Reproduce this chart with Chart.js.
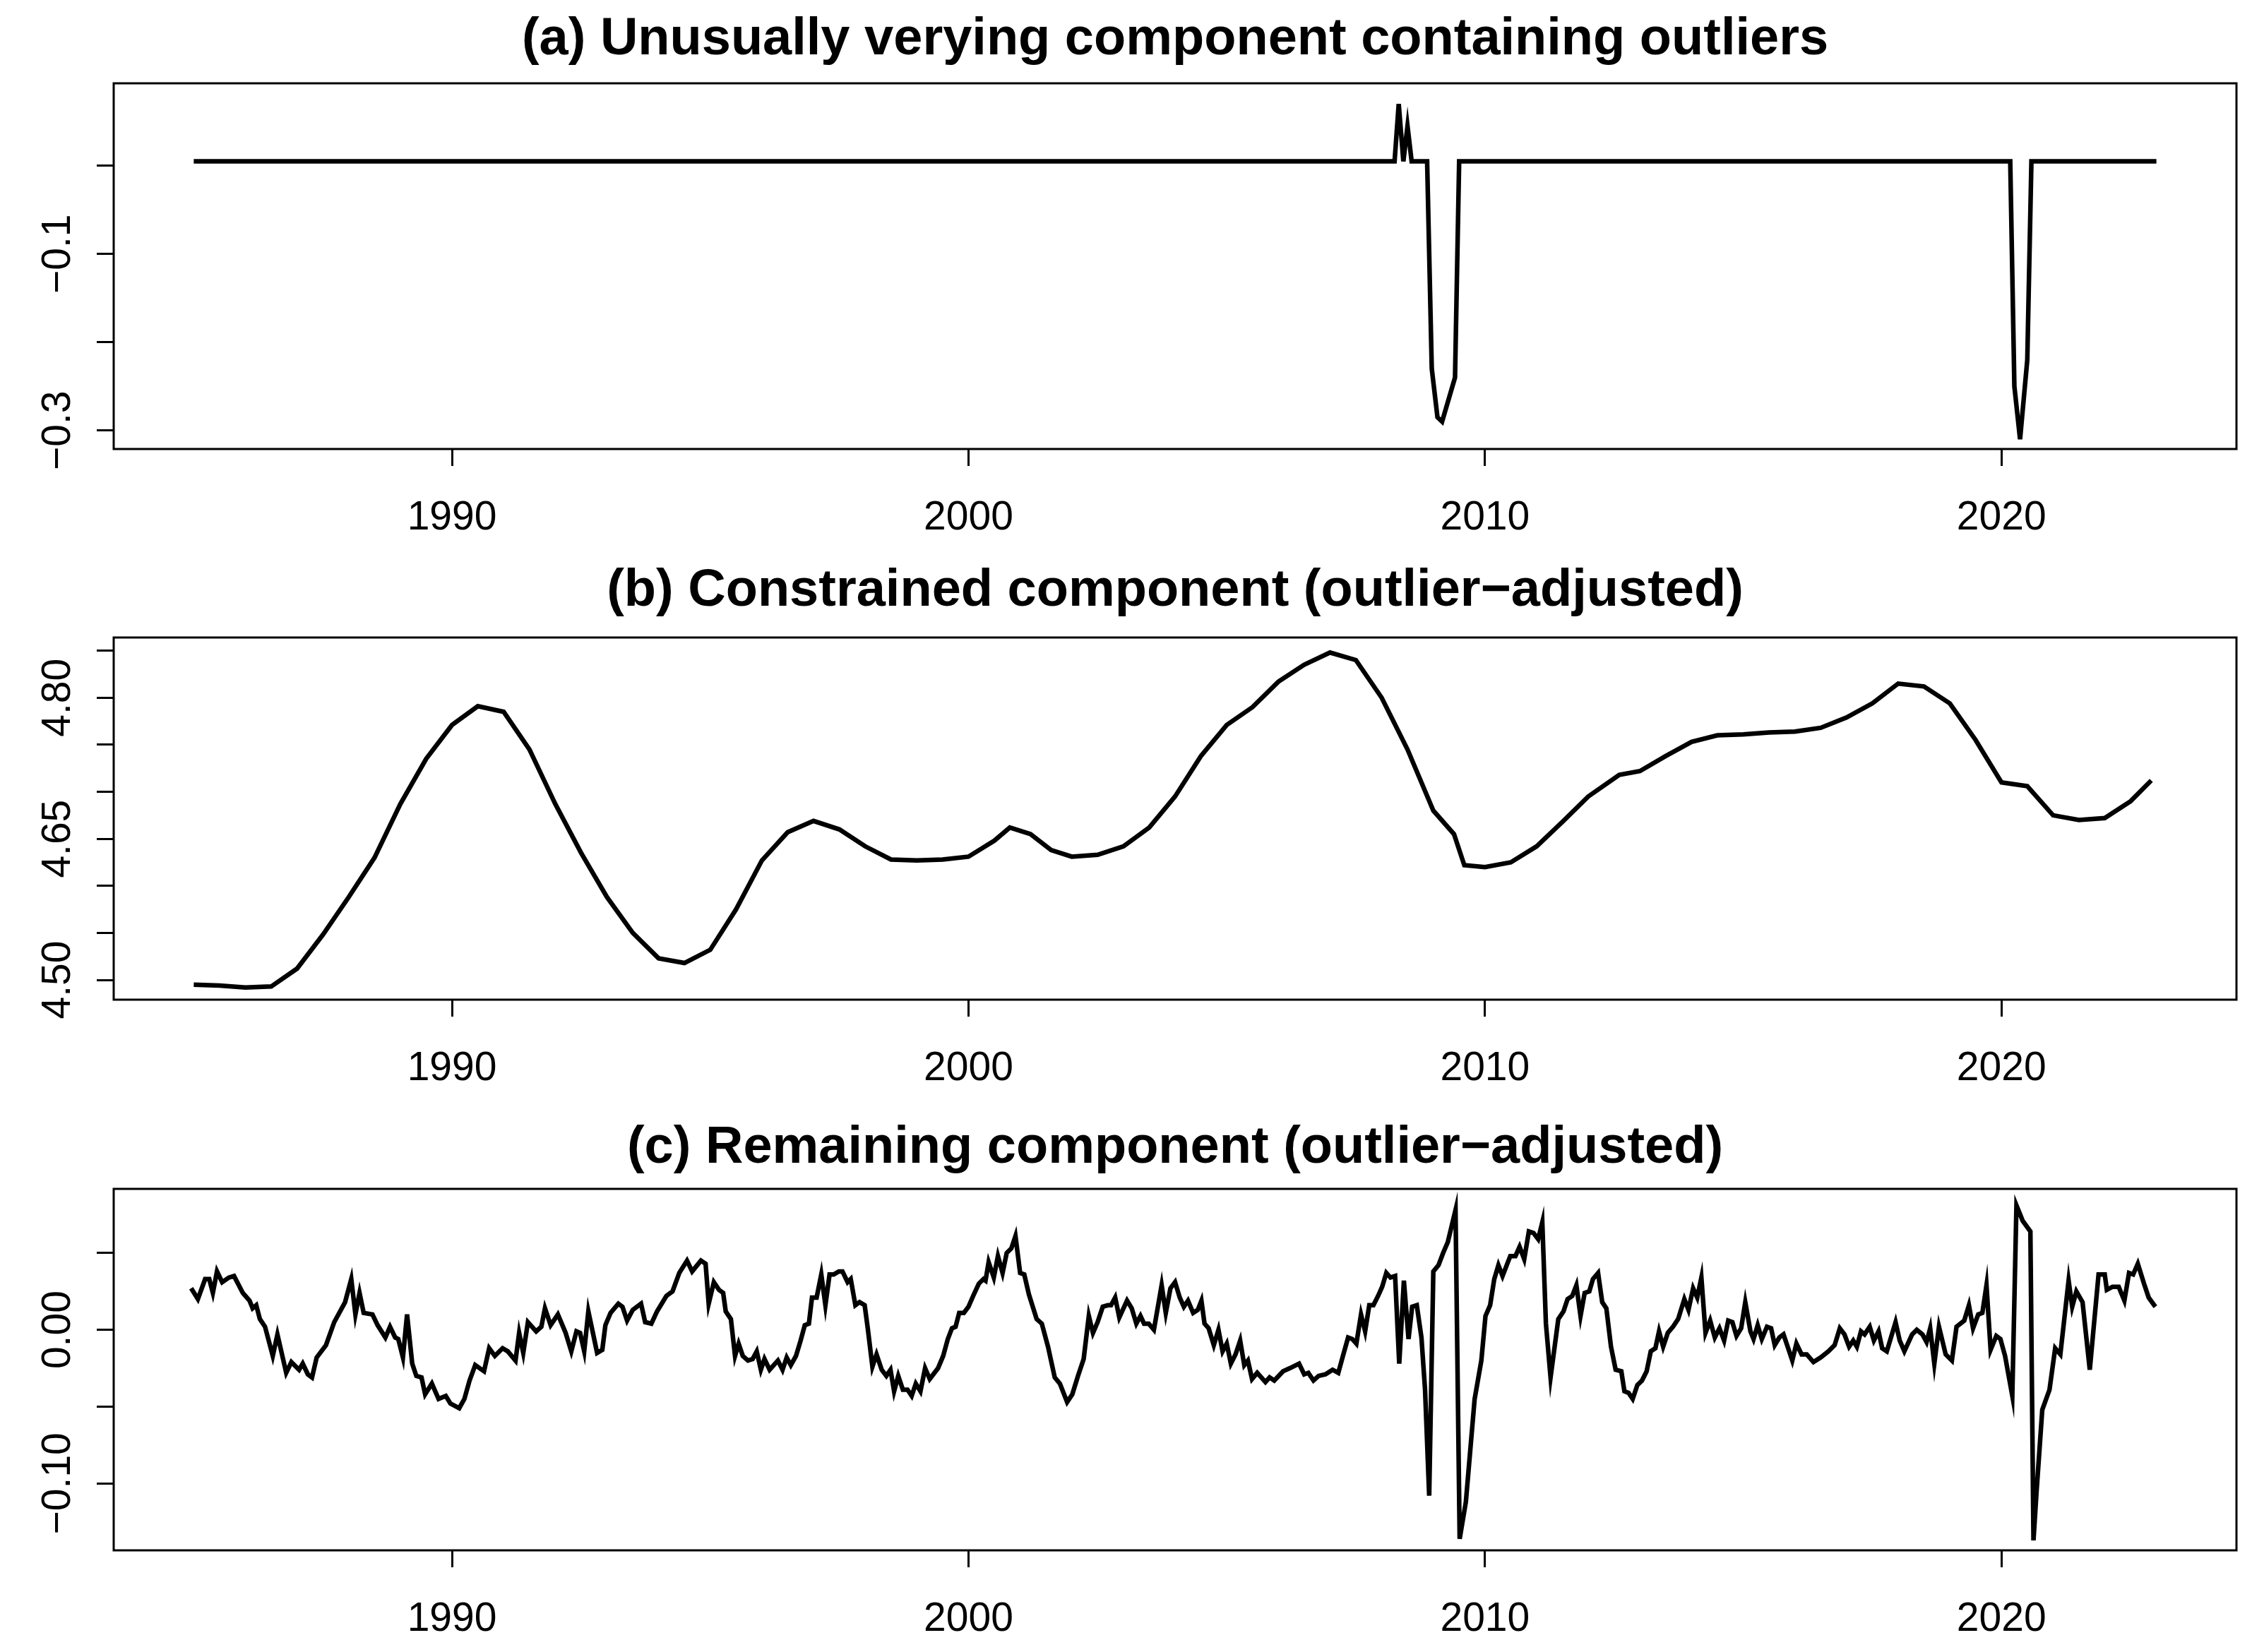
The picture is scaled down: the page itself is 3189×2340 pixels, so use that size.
<!DOCTYPE html>
<html>
<head>
<meta charset="utf-8">
<script src="https://cdn.jsdelivr.net/npm/chart.js@4"></script>
<style>
  body { margin: 0; background: #fff; }
  canvas { position: absolute; left: 0; }
</style>
</head>
<body>
<canvas id="chartA" width="3189" height="780" style="top:0"></canvas>
<canvas id="chartB" width="3189" height="780" style="top:780px"></canvas>
<canvas id="chartC" width="3189" height="780" style="top:1560px"></canvas>
<script>
// x ticks shared by all panels
const yearTicks = [1990, 2000, 2010, 2020];

// (a) outlier component
const yearsA = [1985.0, 2008.25, 2008.33, 2008.42, 2008.5, 2008.58, 2008.88, 2008.97, 2009.08, 2009.17, 2009.42, 2009.5,
  2020.17, 2020.25, 2020.36, 2020.5, 2020.58, 2023.0];
const valsA = [0.005, 0.005, 0.07, 0.005, 0.045, 0.005, 0.005, -0.23, -0.285, -0.29, -0.24, 0.005,
  0.005, -0.25, -0.31, -0.22, 0.005, 0.005];
const yTicksA = [-0.3, -0.2, -0.1, 0.0];
const yLabelsA = [-0.3, -0.1];

// (b) constrained component
const yearsB = [1985.0, 1985.5, 1986.0, 1986.5, 1987.0, 1987.5, 1988.0, 1988.5, 1989.0, 1989.5, 1990.0, 1990.5, 1991.0, 1991.5,
  1992.0, 1992.5, 1993.0, 1993.5, 1994.0, 1994.5, 1995.0, 1995.5, 1996.0, 1996.5, 1997.0, 1997.5, 1998.0, 1998.5,
  1999.0, 1999.5, 2000.0, 2000.5, 2000.8, 2001.2, 2001.6, 2002.0, 2002.5, 2003.0, 2003.5, 2004.0, 2004.5, 2005.0,
  2005.5, 2006.0, 2006.5, 2007.0, 2007.5, 2008.0, 2008.5, 2009.0, 2009.4, 2009.6, 2010.0, 2010.5, 2011.0, 2011.5,
  2012.0, 2012.6, 2013.0, 2013.5, 2014.0, 2014.5, 2015.0, 2015.5, 2016.0, 2016.5, 2017.0, 2017.5, 2018.0, 2018.5,
  2019.0, 2019.5, 2020.0, 2020.5, 2021.0, 2021.5, 2022.0, 2022.5, 2022.9];
const valsB = [4.495, 4.494, 4.492, 4.493, 4.512, 4.548, 4.588, 4.630, 4.687, 4.735, 4.771, 4.791, 4.785, 4.745,
  4.687, 4.635, 4.588, 4.550, 4.523, 4.518, 4.532, 4.575, 4.627, 4.657, 4.669, 4.660, 4.642, 4.628,
  4.627, 4.628, 4.631, 4.648, 4.662, 4.655, 4.638, 4.631, 4.633, 4.642, 4.662, 4.695, 4.738, 4.771,
  4.790, 4.817, 4.835, 4.848, 4.840, 4.800, 4.745, 4.680, 4.655, 4.622, 4.620, 4.625, 4.642, 4.668,
  4.695, 4.718, 4.722, 4.738, 4.753, 4.760, 4.761, 4.763, 4.764, 4.768, 4.779, 4.794, 4.815, 4.812,
  4.794, 4.755, 4.710, 4.706, 4.675, 4.670, 4.672, 4.690, 4.712];
const yTicksB = [4.50, 4.55, 4.60, 4.65, 4.70, 4.75, 4.80, 4.85];
const yLabelsB = [4.50, 4.65, 4.80];

// (c) remaining component
const yearsC = [1984.95, 1985.08, 1985.22, 1985.30, 1985.37, 1985.45, 1985.55, 1985.68, 1985.78, 1985.95, 1986.08, 1986.14,
  1986.21, 1986.28, 1986.38, 1986.53, 1986.62, 1986.79, 1986.89, 1987.04, 1987.11, 1987.21, 1987.29, 1987.38, 1987.56,
  1987.72, 1987.93, 1988.05, 1988.13, 1988.21, 1988.29, 1988.46, 1988.56, 1988.71, 1988.80, 1988.90, 1988.96, 1989.05,
  1989.13, 1989.23, 1989.31, 1989.41, 1989.48, 1989.61, 1989.74, 1989.88, 1989.97, 1990.14, 1990.24, 1990.34, 1990.45,
  1990.62, 1990.72, 1990.83, 1990.98, 1991.08, 1991.23, 1991.30, 1991.38, 1991.47, 1991.63, 1991.73, 1991.80, 1991.91,
  1992.05, 1992.20, 1992.31, 1992.41, 1992.48, 1992.56, 1992.64, 1992.81, 1992.91, 1992.97, 1993.07, 1993.22, 1993.30,
  1993.39, 1993.50, 1993.66, 1993.74, 1993.86, 1993.97, 1994.15, 1994.27, 1994.40, 1994.55, 1994.65, 1994.82, 1994.91,
  1994.97, 1995.07, 1995.17, 1995.25, 1995.30, 1995.40, 1995.48, 1995.55, 1995.63, 1995.73, 1995.82, 1995.90, 1995.98,
  1996.05, 1996.15, 1996.31, 1996.40, 1996.48, 1996.56, 1996.66, 1996.75, 1996.83, 1996.91, 1996.97, 1997.06, 1997.15,
  1997.23, 1997.31, 1997.39, 1997.49, 1997.56, 1997.66, 1997.72, 1997.81, 1997.89, 1997.99, 1998.05, 1998.14, 1998.22,
  1998.32, 1998.41, 1998.49, 1998.56, 1998.64, 1998.73, 1998.82, 1998.90, 1998.98, 1999.07, 1999.16, 1999.25, 1999.41,
  1999.51, 1999.60, 1999.68, 1999.75, 1999.82, 1999.91, 2000.00, 2000.09, 2000.20, 2000.29, 2000.33, 2000.39, 2000.49,
  2000.57, 2000.66, 2000.74, 2000.83, 2000.91, 2001.00, 2001.08, 2001.17, 2001.32, 2001.42, 2001.54, 2001.67, 2001.77,
  2001.91, 2002.01, 2002.12, 2002.23, 2002.33, 2002.41, 2002.50, 2002.60, 2002.70, 2002.76, 2002.84, 2002.92, 2003.07,
  2003.16, 2003.25, 2003.33, 2003.40, 2003.49, 2003.59, 2003.74, 2003.82, 2003.91, 2004.00, 2004.09, 2004.17, 2004.25,
  2004.35, 2004.44, 2004.51, 2004.57, 2004.65, 2004.75, 2004.84, 2004.92, 2005.00, 2005.08, 2005.17, 2005.26, 2005.34,
  2005.41, 2005.49, 2005.59, 2005.75, 2005.83, 2005.92, 2006.09, 2006.22, 2006.40, 2006.50, 2006.58, 2006.68, 2006.78,
  2006.91, 2007.05, 2007.16, 2007.25, 2007.35, 2007.43, 2007.51, 2007.60, 2007.68, 2007.76, 2007.84, 2007.93, 2008.01,
  2008.09, 2008.17, 2008.26, 2008.34, 2008.43, 2008.52, 2008.59, 2008.68, 2008.77, 2008.84, 2008.92, 2009.00, 2009.10,
  2009.19, 2009.28, 2009.43, 2009.51, 2009.63, 2009.80, 2009.93, 2010.01, 2010.10, 2010.18, 2010.26, 2010.34, 2010.49,
  2010.59, 2010.67, 2010.76, 2010.85, 2010.94, 2011.03, 2011.11, 2011.18, 2011.27, 2011.42, 2011.52, 2011.60, 2011.69,
  2011.77, 2011.85, 2011.93, 2012.02, 2012.09, 2012.19, 2012.27, 2012.35, 2012.44, 2012.53, 2012.64, 2012.70, 2012.78,
  2012.86, 2012.95, 2013.04, 2013.13, 2013.21, 2013.30, 2013.37, 2013.45, 2013.54, 2013.64, 2013.74, 2013.86, 2013.94,
  2014.03, 2014.11, 2014.19, 2014.27, 2014.36, 2014.45, 2014.54, 2014.63, 2014.71, 2014.79, 2014.87, 2014.96, 2015.04,
  2015.14, 2015.20, 2015.28, 2015.36, 2015.46, 2015.54, 2015.61, 2015.70, 2015.78, 2015.86, 2015.95, 2016.03, 2016.13,
  2016.23, 2016.36, 2016.50, 2016.65, 2016.77, 2016.87, 2016.96, 2017.05, 2017.13, 2017.20, 2017.28, 2017.35, 2017.45,
  2017.53, 2017.62, 2017.69, 2017.78, 2017.95, 2018.03, 2018.12, 2018.27, 2018.36, 2018.47, 2018.55, 2018.62, 2018.70,
  2018.79, 2018.92, 2019.04, 2019.13, 2019.28, 2019.37, 2019.45, 2019.55, 2019.63, 2019.71, 2019.79, 2019.90, 2019.98,
  2020.07, 2020.21, 2020.29, 2020.41, 2020.56, 2020.62, 2020.68, 2020.79, 2020.93, 2021.04, 2021.14, 2021.30, 2021.37,
  2021.45, 2021.57, 2021.71, 2021.88, 2022.00, 2022.04, 2022.15, 2022.27, 2022.38, 2022.47, 2022.55, 2022.64, 2022.76,
  2022.85, 2022.98];
const valsC = [0.027, 0.020, 0.033, 0.033, 0.024, 0.038, 0.031, 0.034, 0.035, 0.024, 0.019, 0.014,
  0.016, 0.007, 0.002, -0.017, -0.003, -0.028, -0.021, -0.026, -0.022, -0.029, -0.031, -0.018, -0.010,
  0.005, 0.018, 0.033, 0.010, 0.024, 0.011, 0.010, 0.003, -0.005, 0.002, -0.005, -0.006, -0.018,
  0.010, -0.022, -0.030, -0.031, -0.042, -0.035, -0.045, -0.043, -0.048, -0.051, -0.045, -0.033, -0.023,
  -0.027, -0.012, -0.017, -0.012, -0.014, -0.020, -0.002, -0.015, 0.005, -0.001, 0.002, 0.014, 0.003,
  0.010, -0.002, -0.014, -0.001, -0.002, -0.014, 0.012, -0.015, -0.013, 0.003, 0.011, 0.017, 0.015,
  0.006, 0.013, 0.017, 0.005, 0.004, 0.012, 0.022, 0.025, 0.037, 0.045, 0.038, 0.045, 0.043,
  0.017, 0.031, 0.026, 0.024, 0.012, 0.007, -0.017, -0.009, -0.017, -0.020, -0.019, -0.014, -0.026,
  -0.019, -0.026, -0.020, -0.026, -0.018, -0.023, -0.017, -0.007, 0.003, 0.004, 0.021, 0.021, 0.036,
  0.016, 0.036, 0.036, 0.038, 0.038, 0.031, 0.033, 0.016, 0.018, 0.016, 0.001, -0.024, -0.016,
  -0.026, -0.030, -0.026, -0.040, -0.030, -0.039, -0.039, -0.043, -0.035, -0.040, -0.025, -0.032, -0.025,
  -0.017, -0.006, 0.001, 0.002, 0.011, 0.011, 0.015, 0.022, 0.030, 0.033, 0.032, 0.044, 0.034,
  0.048, 0.037, 0.050, 0.053, 0.061, 0.037, 0.036, 0.023, 0.007, 0.004, -0.011, -0.031, -0.035,
  -0.047, -0.042, -0.030, -0.019, 0.009, -0.002, 0.005, 0.015, 0.016, 0.016, 0.021, 0.008, 0.019,
  0.014, 0.004, 0.009, 0.004, 0.004, 0.000, 0.029, 0.011, 0.027, 0.031, 0.021, 0.015, 0.019,
  0.011, 0.013, 0.019, 0.004, 0.001, -0.010, 0.000, -0.014, -0.009, -0.022, -0.016, -0.007, -0.023,
  -0.020, -0.032, -0.028, -0.034, -0.031, -0.033, -0.027, -0.025, -0.022, -0.029, -0.028, -0.033, -0.030,
  -0.029, -0.026, -0.028, -0.017, -0.005, -0.006, -0.009, 0.010, -0.001, 0.016, 0.016, 0.022, 0.028,
  0.037, 0.034, 0.035, -0.022, 0.032, -0.006, 0.015, 0.016, -0.005, -0.039, -0.108, 0.038, 0.042,
  0.050, 0.057, 0.078, -0.136, -0.112, -0.045, -0.020, 0.009, 0.016, 0.033, 0.042, 0.035, 0.048,
  0.048, 0.054, 0.046, 0.064, 0.063, 0.059, 0.070, 0.004, -0.031, 0.007, 0.012, 0.020, 0.022,
  0.029, 0.009, 0.024, 0.025, 0.033, 0.037, 0.018, 0.014, -0.011, -0.026, -0.027, -0.040, -0.041,
  -0.045, -0.036, -0.033, -0.027, -0.014, -0.012, -0.001, -0.011, -0.002, 0.002, 0.007, 0.020, 0.013,
  0.027, 0.021, 0.034, -0.002, 0.006, -0.005, 0.001, -0.007, 0.006, 0.005, -0.004, 0.001, 0.018,
  -0.001, -0.006, 0.003, -0.006, 0.002, 0.001, -0.010, -0.005, -0.003, -0.011, -0.020, -0.009, -0.016,
  -0.016, -0.021, -0.018, -0.014, -0.010, 0.001, -0.003, -0.011, -0.007, -0.011, -0.001, -0.003, 0.002,
  -0.007, -0.001, -0.012, -0.014, 0.005, -0.007, -0.014, -0.003, 0.000, -0.003, -0.008, 0.001, -0.022,
  0.002, -0.016, -0.020, 0.002, 0.006, 0.016, 0.001, 0.010, 0.011, 0.029, -0.013, -0.004, -0.006,
  -0.017, -0.043, 0.081, 0.071, 0.064, -0.137, -0.105, -0.052, -0.039, -0.012, -0.016, 0.032, 0.015,
  0.025, 0.018, -0.026, 0.036, 0.036, 0.026, 0.028, 0.028, 0.019, 0.037, 0.036, 0.043, 0.030,
  0.021, 0.015];
const yTicksC = [-0.10, -0.05, 0.00, 0.05];
const yLabelsC = [-0.10, 0.00];

const FONT = 'Liberation Sans, Arial, sans-serif';

// рамка, заголовок и повёрнутые подписи оси Y в стиле R
const rStyle = {
  id: 'rStyle',
  afterDraw(chart, args, opts) {
    const ctx = chart.ctx;
    const a = chart.chartArea;
    ctx.save();
    ctx.strokeStyle = '#000';
    ctx.lineWidth = 3;
    ctx.strokeRect(a.left, a.top, a.right - a.left, a.bottom - a.top);
    ctx.fillStyle = '#000';
    ctx.font = 'bold 74px ' + FONT;
    ctx.textAlign = 'center';
    ctx.textBaseline = 'middle';
    ctx.fillText(opts.title, (a.left + a.right) / 2, opts.titleY);
    ctx.font = '57px ' + FONT;
    const ys = chart.scales.y;
    opts.labels.forEach(v => {
      const py = ys.getPixelForValue(v);
      ctx.save();
      ctx.translate(a.left - 78, py);
      ctx.rotate(-Math.PI / 2);
      ctx.fillText(v < 0 ? '\u2212' + Math.abs(v).toFixed(opts.dec) : v.toFixed(opts.dec), 0, 0);
      ctx.restore();
    });
    ctx.restore();
  }
};

function makePanel(id, years, vals, yMin, yMax, yTicks, yLabels, dec, title, titleY, top) {
  new Chart(document.getElementById(id), {
    type: 'line',
    data: {
      datasets: [{
        data: years.map((x, i) => ({ x, y: vals[i] })),
        borderColor: '#000',
        borderWidth: 6.5,
        pointRadius: 0,
        tension: 0
      }]
    },
    options: {
      responsive: false,
      animation: false,
      devicePixelRatio: 1,
      layout: { padding: { top: top, left: 0, right: 22, bottom: 0 } },
      plugins: {
        legend: { display: false },
        tooltip: { enabled: false },
        rStyle: { title, titleY, labels: yLabels, dec }
      },
      scales: {
        x: {
          type: 'linear', min: 1983.45, max: 2024.55,
          afterBuildTicks: s => { s.ticks = yearTicks.map(v => ({ value: v })); },
          afterFit: s => { s.height = 144; },
          border: { display: false },
          grid: { drawOnChartArea: false, drawTicks: true, tickLength: 24, color: '#000', lineWidth: 3 },
          ticks: { color: '#000', font: { family: FONT, size: 57 }, padding: 40, maxRotation: 0,
                   callback: v => String(v) }
        },
        y: {
          min: yMin, max: yMax,
          afterBuildTicks: s => { s.ticks = yTicks.map(v => ({ value: v })); },
          afterFit: s => { s.width = 161; },
          border: { display: false },
          grid: { drawOnChartArea: false, drawTicks: true, tickLength: 24, color: '#000', lineWidth: 3 },
          ticks: { display: false }
        }
      }
    },
    plugins: [rStyle]
  });
}

makePanel('chartA', yearsA, valsA, -0.321, 0.0934, yTicksA, yLabelsA, 1,
  '(a) Unusually verying component containing outliers', 57, 118);
makePanel('chartB', yearsB, valsB, 4.479, 4.864, yTicksB, yLabelsB, 2,
  '(b) Constrained component (outlier\u2212adjusted)', 58, 123);
makePanel('chartC', yearsC, valsC, -0.1435, 0.0917, yTicksC, yLabelsC, 2,
  '(c) Remaining component (outlier\u2212adjusted)', 67, 124);
</script>
</body>
</html>
